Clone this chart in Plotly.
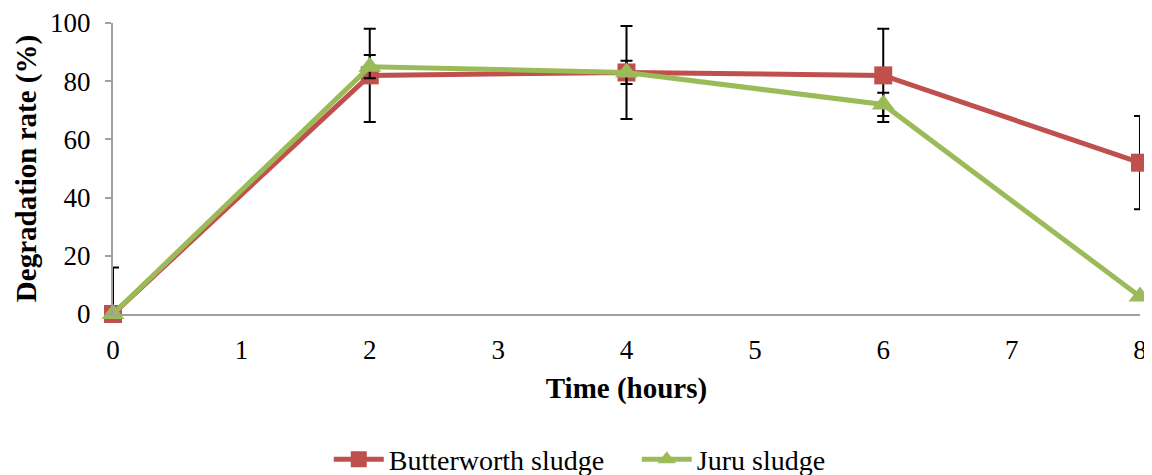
import plotly.graph_objects as go

time_h = [0, 2, 4, 6, 8]
butterworth = [0, 82, 83, 82, 52]
butterworth_err_plus = [16, 16, 16, 16, 16]
butterworth_err_minus = [0, 16, 16, 16, 16]
juru = [0, 85, 83, 72, 6]
juru_err = [0, 4, 4, 4, 0]
x_ticks = [0, 1, 2, 3, 4, 5, 6, 7, 8]
y_ticks = [0, 20, 40, 60, 80, 100]

RED = "#C0504D"
GREEN = "#9BBB59"
FONT = "Liberation Serif, Times New Roman, serif"
FS = 27
FS_TITLE = 29
FS_LEG = 28

fig = go.Figure()
fig.add_trace(go.Scatter(
    x=time_h, y=butterworth, name="Butterworth sludge", mode="lines+markers",
    line=dict(color=RED, width=5),
    marker=dict(symbol="square", size=18, color=RED),
    error_y=dict(type="data", symmetric=False, array=butterworth_err_plus,
                 arrayminus=butterworth_err_minus, color="black", thickness=2, width=6),
    cliponaxis=False,
))
fig.add_trace(go.Scatter(
    x=time_h, y=juru, name="Juru sludge", mode="lines+markers",
    line=dict(color=GREEN, width=5),
    marker=dict(symbol="triangle-up", size=20, color=GREEN),
    error_y=dict(type="data", array=juru_err, color="black", thickness=2, width=6),
    cliponaxis=False,
))

# page body has an 8px margin, so the figure is sized/offset to compensate
fig.update_layout(
    width=1144, height=467,
    margin=dict(l=105, r=12, t=15, b=161, autoexpand=False),
    paper_bgcolor="white", plot_bgcolor="white",
    font=dict(family=FONT, size=FS, color="black"),
    showlegend=True,
    legend=dict(orientation="h", x=0.51, xanchor="center", y=-0.50, yanchor="middle",
                font=dict(family=FONT, size=FS_LEG), itemwidth=50, entrywidth=243,
                tracegroupgap=0),
    xaxis=dict(
        range=[0, 8], tickmode="array", tickvals=x_ticks, ticktext=[str(v) for v in x_ticks],
        showline=True, linecolor="#A0A0A0", linewidth=2, ticks="", showgrid=False,
        zeroline=False, ticklabelstandoff=11, automargin=False,
        title=dict(text="<b>Time (hours)</b>", font=dict(family=FONT, size=FS_TITLE), standoff=13),
    ),
    yaxis=dict(
        range=[0, 100], tickmode="array", tickvals=y_ticks,
        showline=True, linecolor="#A0A0A0", linewidth=2, ticks="outside", ticklen=6,
        tickcolor="#A0A0A0", tickwidth=2, showgrid=False, zeroline=False, ticklabelstandoff=9,
        automargin=False,
        title=dict(text="<b>Degradation rate (%)</b>", font=dict(family=FONT, size=FS_TITLE), standoff=5),
    ),
)

fig.write_html("out.html")
